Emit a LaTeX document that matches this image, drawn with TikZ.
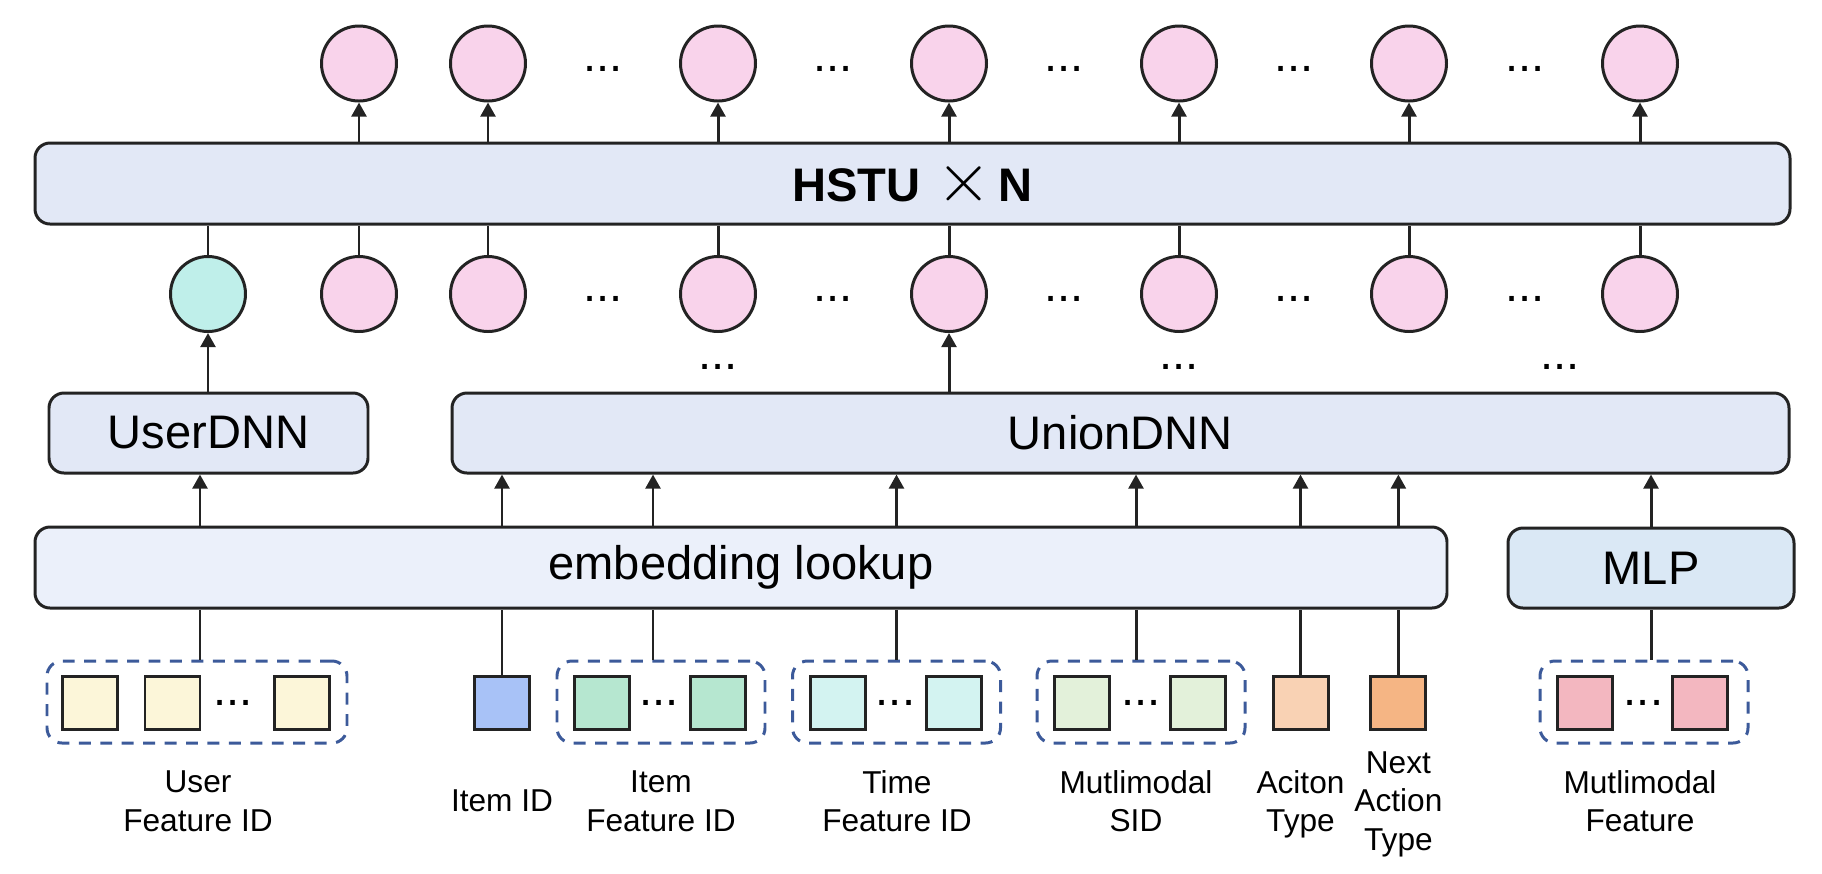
\documentclass[tikz,border=0pt]{standalone}
\usepackage{fontspec}
\usepackage{graphicx}
\setmainfont{Liberation Sans}
\usetikzlibrary{arrows.meta}

\definecolor{linec}{HTML}{232323}
\definecolor{pinkc}{HTML}{F9D3EB}
\definecolor{tealc}{HTML}{BFEFEA}
\definecolor{blkc}{HTML}{E2E8F6}
\definecolor{embc}{HTML}{EBF0FA}
\definecolor{mlpc}{HTML}{DAE8F5}
\definecolor{grpc}{HTML}{3C5A9A}
\definecolor{userc}{HTML}{FCF6D9}
\definecolor{iidc}{HTML}{A8C2F7}
\definecolor{ifeatc}{HTML}{B6E7D0}
\definecolor{timec}{HTML}{D3F3F1}
\definecolor{sidc}{HTML}{E3F1DA}
\definecolor{actc}{HTML}{F9D2B4}
\definecolor{nactc}{HTML}{F5B584}
\definecolor{mmc}{HTML}{F3B7C0}

\begin{document}
\begin{tikzpicture}[x=0.1mm,y=-0.1mm,line width=0.85pt,
    circ/.style={circle,draw=linec,fill=pinkc,minimum size=7.5mm,inner sep=0pt},
    blk/.style={draw=linec,fill=blkc,rounded corners=1.5mm,minimum height=8mm,inner sep=0pt,font=\fontsize{13.4}{16}\selectfont},
    sq/.style={draw=linec,minimum width=5.5mm,minimum height=5.3mm,inner sep=0pt},
    grp/.style={draw=grpc,dash pattern=on 3.4pt off 2.7pt,rounded corners=1.5mm,minimum width=20.8mm,minimum height=8.2mm,inner sep=0pt},
    ellip/.style={inner sep=0pt,font=\fontsize{13.4}{16}\selectfont},
    lbl/.style={align=center,font=\fontsize{9}{11}\selectfont,text depth=0pt},
    arr/.style={draw=linec,-{Triangle[length=4pt,width=4.2pt]}},
    ln/.style={draw=linec}]
        \useasboundingbox (0,0) rectangle (1822,873);
        % HSTU block
        \node[blk,minimum width=175.5mm,minimum height=8.1mm] (hstu) at (912.5,183.5) {\textbf{HSTU}\hspace{4.5pt}\scalebox{1.4}{$\times$}\hspace{2pt}\textbf{N}};
        % outputs
        \node[circ] (t1) at (359,63.5) {};
        \node[circ] (t2) at (488,63.5) {};
        \node[circ] (t3) at (718,63.5) {};
        \node[circ] (t4) at (949,63.5) {};
        \node[circ] (t5) at (1179,63.5) {};
        \node[circ] (t6) at (1409,63.5) {};
        \node[circ] (t7) at (1640,63.5) {};
        \node[ellip] (td1) at (603,69) {...};
        \node[ellip] (td2) at (833,69) {...};
        \node[ellip] (td3) at (1064,69) {...};
        \node[ellip] (td4) at (1294,69) {...};
        \node[ellip] (td5) at (1525,69) {...};
        % tokens into HSTU
        \node[circ,fill=tealc] (u0) at (208,294) {};
        \node[circ] (b1) at (359,294) {};
        \node[circ] (b2) at (488,294) {};
        \node[circ] (b3) at (718,294) {};
        \node[circ] (b4) at (949,294) {};
        \node[circ] (b5) at (1179,294) {};
        \node[circ] (b6) at (1409,294) {};
        \node[circ] (b7) at (1640,294) {};
        \node[ellip] (bd1) at (603,299) {...};
        \node[ellip] (bd2) at (833,299) {...};
        \node[ellip] (bd3) at (1064,299) {...};
        \node[ellip] (bd4) at (1294,299) {...};
        \node[ellip] (bd5) at (1525,299) {...};
        \node[ellip] (md1) at (718,367) {...};
        \node[ellip] (md2) at (1179,367) {...};
        \node[ellip] (md3) at (1560,367) {...};
        % DNN blocks
        \node[blk,minimum width=31.9mm] (udnn) at (208.5,433) {UserDNN};
        \node[blk,minimum width=133.7mm] (union) at (1120.5,433) {UnionDNN};
        \node[blk,fill=embc,minimum width=141.2mm,minimum height=8.1mm] (embed) at (741,567.5) {embedding lookup};
        \node[blk,fill=mlpc,minimum width=28.6mm] (mlp) at (1651,568) {MLP};
        % features
        \node[grp,minimum width=30mm] (ugrp) at (197,702) {};
        \node[sq,fill=userc] (u1) at (90.4,702.5) {};
        \node[sq,fill=userc] (u2) at (172.5,702.5) {};
        \node[ellip] (ud) at (233,702.5) {...};
        \node[sq,fill=userc] (u3) at (301.8,702.5) {};
        \node[sq,fill=iidc] (iid) at (502,702.5) {};
        \node[grp] (igrp) at (661,702) {};
        \node[sq,fill=ifeatc] (i1) at (602,702.5) {};
        \node[ellip] (idt) at (659,702.5) {...};
        \node[sq,fill=ifeatc] (i2) at (718,702.5) {};
        \node[grp] (tgrp) at (896.5,702) {};
        \node[sq,fill=timec] (tm1) at (838,702.5) {};
        \node[ellip] (tmd) at (895.5,702.5) {...};
        \node[sq,fill=timec] (tm2) at (953.5,702.5) {};
        \node[grp] (sgrp) at (1141,702) {};
        \node[sq,fill=sidc] (s1) at (1082,702.5) {};
        \node[ellip] (sd) at (1141,702.5) {...};
        \node[sq,fill=sidc] (s2) at (1197.5,702.5) {};
        \node[sq,fill=actc] (act) at (1300.5,702.5) {};
        \node[sq,fill=nactc] (nact) at (1398.4,702.5) {};
        \node[grp] (mgrp) at (1644,702) {};
        \node[sq,fill=mmc] (m1) at (1584.8,702.5) {};
        \node[ellip] (mdt) at (1643.5,702.5) {...};
        \node[sq,fill=mmc] (m2) at (1699.8,702.5) {};
        % labels
        \node[lbl] (ulbl) at (198,801) {User\\Feature ID};
        \node[lbl] (iidlbl) at (502,801) {Item ID};
        \node[lbl] (ilbl) at (661,801) {Item\\Feature ID};
        \node[lbl] (tlbl) at (897,801) {Time\\Feature ID};
        \node[lbl] (slbl) at (1136,801) {Mutlimodal\\SID};
        \node[lbl] (albl) at (1300.5,801) {Aciton\\Type};
        \node[lbl] (nlbl) at (1398.4,801) {Next\\Action\\Type};
        \node[lbl] (mlbl) at (1640,801) {Mutlimodal\\Feature};
        % HSTU to outputs
        \draw[arr] (t1 |- hstu.north) -- (t1.south);
        \draw[arr] (t2 |- hstu.north) -- (t2.south);
        \draw[arr] (t3 |- hstu.north) -- (t3.south);
        \draw[arr] (t4 |- hstu.north) -- (t4.south);
        \draw[arr] (t5 |- hstu.north) -- (t5.south);
        \draw[arr] (t6 |- hstu.north) -- (t6.south);
        \draw[arr] (t7 |- hstu.north) -- (t7.south);
        % tokens to HSTU
        \draw[ln] (u0.north) -- (u0 |- hstu.south);
        \draw[ln] (b1.north) -- (b1 |- hstu.south);
        \draw[ln] (b2.north) -- (b2 |- hstu.south);
        \draw[ln] (b3.north) -- (b3 |- hstu.south);
        \draw[ln] (b4.north) -- (b4 |- hstu.south);
        \draw[ln] (b5.north) -- (b5 |- hstu.south);
        \draw[ln] (b6.north) -- (b6 |- hstu.south);
        \draw[ln] (b7.north) -- (b7 |- hstu.south);
        \draw[arr] (u0 |- udnn.north) -- (u0.south);
        \draw[arr] (b4 |- union.north) -- (b4.south);
        % features to embedding lookup and DNNs
        \draw[ln] ([xshift=0.3mm]ugrp.north) -- ([xshift=0.3mm]ugrp.north |- embed.south);
        \draw[arr] ([xshift=0.3mm]ugrp.north |- embed.north) -- ([xshift=0.3mm]ugrp.north |- udnn.south);
        \draw[ln] (iid.north) -- (iid.north |- embed.south);
        \draw[arr] (iid.north |- embed.north) -- (iid.north |- union.south);
        \draw[ln] ([xshift=-0.8mm]igrp.north) -- ([xshift=-0.8mm]igrp.north |- embed.south);
        \draw[arr] ([xshift=-0.8mm]igrp.north |- embed.north) -- ([xshift=-0.8mm]igrp.north |- union.south);
        \draw[ln] (tgrp.north) -- (tgrp.north |- embed.south);
        \draw[arr] (tgrp.north |- embed.north) -- (tgrp.north |- union.south);
        \draw[ln] ([xshift=-0.5mm]sgrp.north) -- ([xshift=-0.5mm]sgrp.north |- embed.south);
        \draw[arr] ([xshift=-0.5mm]sgrp.north |- embed.north) -- ([xshift=-0.5mm]sgrp.north |- union.south);
        \draw[ln] (act.north) -- (act.north |- embed.south);
        \draw[arr] (act.north |- embed.north) -- (act.north |- union.south);
        \draw[ln] (nact.north) -- (nact.north |- embed.south);
        \draw[arr] (nact.north |- embed.north) -- (nact.north |- union.south);
        \draw[ln] (mlp.south |- mgrp.north) -- (mlp.south);
        \draw[arr] (mlp.north) -- (mlp.north |- union.south);
\end{tikzpicture}
\end{document}
